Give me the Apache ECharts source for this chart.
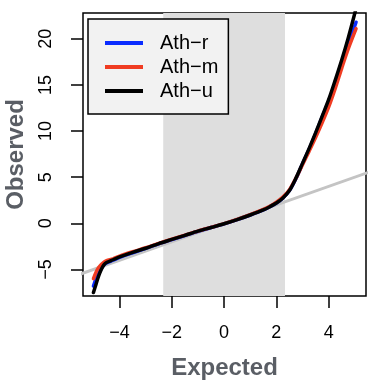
<!DOCTYPE html>
<html>
<head>
<meta charset="utf-8">
<script src="https://cdn.jsdelivr.net/npm/echarts@6/dist/echarts.min.js"></script>
<style>
html,body{margin:0;padding:0;background:#fff;}
#chart{width:375px;height:381px;}
</style>
</head>
<body>
<div id="chart"></div>
<script>
// Expected quantiles (x) shared by the three series
const expected = [-5.0,-4.9,-4.8,-4.7,-4.6,-4.5,-4.25,-4.0,-3.5,-3.0,-2.5,-2.0,-1.5,-1.0,-0.5,0,0.5,1.0,1.5,1.75,2.0,2.25,2.5,2.75,3.0,3.25,3.5,3.75,4.0,4.25,4.5,4.75,5.05];
const athR = [-6.8,-6.0,-5.4,-4.9,-4.5,-4.3,-4.0,-3.7,-3.2,-2.72,-2.22,-1.77,-1.32,-0.87,-0.46,-0.06,0.4,0.9,1.45,1.8,2.2,2.75,3.55,4.85,6.45,8.0,9.7,11.5,13.2,15.2,17.3,19.4,21.8];
const athM = [-6.0,-5.3,-4.8,-4.45,-4.2,-4.05,-3.85,-3.55,-3.08,-2.65,-2.17,-1.72,-1.28,-0.84,-0.44,-0.04,0.42,0.93,1.5,1.85,2.3,2.85,3.65,4.9,6.35,7.8,9.3,10.9,12.6,14.6,16.8,18.9,21.1];
const athU = [-7.5,-6.6,-5.7,-5.0,-4.5,-4.25,-3.95,-3.65,-3.15,-2.7,-2.2,-1.75,-1.3,-0.85,-0.45,-0.05,0.4,0.9,1.45,1.8,2.2,2.75,3.55,4.9,6.5,8.1,9.8,11.6,13.4,15.5,17.7,20.1,23.3];
const seriesNames = ['Ath−r','Ath−m','Ath−u'];
const seriesColors = ['#0a2cff','#f03c22','#000000'];
// reference line y = x and the shaded central band
const diagX = [-6, 6];
const band = [-2.33, 2.33];
const xTicks = [-4,-2,0,2,4];
const yTicks = [-5,0,5,10,15,20];
const xRange = [-5.4, 5.43];
const yRange = [-7.88, 22.8];

const font = 'Liberation Sans, Arial, Helvetica, sans-serif';
const fmt = v => (v < 0 ? '\u2212' + Math.abs(v) : String(v));
const pair = (xs, ys) => xs.map((x, i) => [x, ys[i]]);

const chart = echarts.init(document.getElementById('chart'));
const curveData = [athR, athM, athU];

chart.setOption({
  animation: false,
  grid: {left: 83, right: 9, top: 13, bottom: 85, show: true, borderColor: '#000', borderWidth: 1.5,
         containLabel: false, outerBoundsMode: 'none'},
  legend: {
    orient: 'vertical', left: 88, top: 19,
    padding: [12, 10, 11, 17],
    backgroundColor: '#f2f2f2', borderColor: '#000', borderWidth: 1.5,
    itemWidth: 38, itemHeight: 4, itemGap: 0, icon: 'rect',
    textStyle: {fontFamily: font, fontSize: 20, color: '#000', lineHeight: 24, padding: [0, 0, 0, 12]},
    data: seriesNames
  },
  xAxis: {
    type: 'value', min: xRange[0], max: xRange[1],
    name: 'Expected', nameLocation: 'middle', nameGap: 60,
    nameTextStyle: {fontFamily: font, fontSize: 24, fontWeight: 'bold', color: '#5a5e65'},
    axisLine: {show: false, onZero: false},
    splitLine: {show: false},
    axisTick: {show: true, length: 12, customValues: xTicks, lineStyle: {color: '#000', width: 1.5}},
    axisLabel: {customValues: xTicks, formatter: fmt, margin: 28, fontFamily: font, fontSize: 18, color: '#000'}
  },
  yAxis: {
    type: 'value', min: yRange[0], max: yRange[1],
    name: 'Observed', nameLocation: 'middle', nameGap: 55,
    nameTextStyle: {fontFamily: font, fontSize: 24, fontWeight: 'bold', color: '#5a5e65'},
    axisLine: {show: false, onZero: false},
    splitLine: {show: false},
    axisTick: {show: true, length: 12, customValues: yTicks, lineStyle: {color: '#000', width: 1.5}},
    axisLabel: {customValues: yTicks, formatter: fmt, rotate: 90, margin: 28, fontFamily: font, fontSize: 18, color: '#000'}
  },
  series: [
    {
      type: 'line', name: 'ref', data: pair(diagX, diagX), symbol: 'none', silent: true,
      lineStyle: {color: '#c4c4c4', width: 3},
      markArea: {silent: true, itemStyle: {color: '#dedede'}, data: [[{xAxis: band[0]}, {xAxis: band[1]}]]}
    }
  ].concat(curveData.map((d, i) => ({
    type: 'line', name: seriesNames[i], data: pair(expected, d), symbol: 'none', smooth: 0.3,
    lineStyle: {color: seriesColors[i], width: 3.5, cap: 'round'}, itemStyle: {color: seriesColors[i]}
  })))
});
</script>
</body>
</html>
